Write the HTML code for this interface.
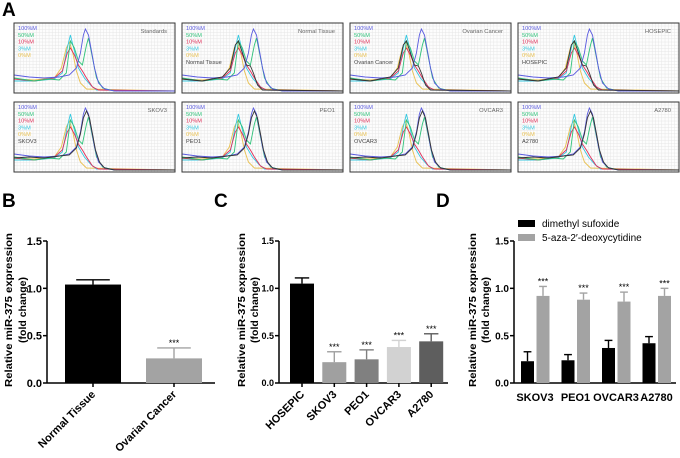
<!DOCTYPE html>
<html><head><meta charset="utf-8"><style>
html,body{margin:0;padding:0;background:#fff;}
body{width:680px;height:453px;overflow:hidden;font-family:"Liberation Sans",Arial,sans-serif;}
svg text{font-family:"Liberation Sans",Arial,sans-serif;}
</style></head><body>
<svg id="fig" width="680" height="453" viewBox="0 0 680 453" xmlns="http://www.w3.org/2000/svg">
<text x="2" y="16" font-size="19" font-weight="bold">A</text>
<text x="2" y="207" font-size="19" font-weight="bold">B</text>
<text x="214" y="207" font-size="19" font-weight="bold">C</text>
<text x="436" y="207" font-size="19" font-weight="bold">D</text>
<g id="melt"></g><g id="pb"></g><g id="pc"></g><g id="pd"></g>
</svg>
<script>
// ---- Panel A data (melting curves; x = temperature units 0..160, y = signal 0..66) ----
const meltTitles = ["Standards","Normal Tissue","Ovarian Cancer","HOSEPIC","SKOV3","PEO1","OVCAR3","A2780"];
const meltSampleShape = ["none","left","left","left","right","right","right","right"];
const stdLabels = ["100%M","50%M","10%M","3%M","0%M"];
const stdColors = ["#5a5ae0","#2fc27a","#e0305a","#36c8e0","#e8c050"];
const curve100X = [0,15,30,45,55,62,66,69,71,74,77,80,84,90,100,160];
const curve100Y = [16,14,13,14,16,23,38,56,62,56,40,23,8,2,0,0];
const curve50X = [0,20,35,45,52,56,60,64,68,72,74,78,82,88,100,160];
const curve50Y = [13,10,12,11,18,50,43,30,26,46,53,33,13,3,0,0];
const curve10X = [0,20,40,48,53,56,60,64,68,72,78,84,160];
const curve10Y = [12,10,13,20,38,43,36,26,20,13,4,1,0];
const curve3X = [0,20,40,48,53,56,60,64,70,76,82,160];
const curve3Y = [10,10,12,18,43,56,40,23,13,6,1,0];
const curve0X = [0,20,40,47,52,55,58,62,66,72,160];
const curve0Y = [12,11,13,23,43,49,40,20,8,2,0];
const sampleLeftX = [0,20,40,48,53,56,60,64,68,71,75,80,160];
const sampleLeftY = [12,10,14,23,46,50,38,26,25,18,6,1,0];
const sampleRightX = [0,15,30,45,55,62,66,69,72,75,78,81,85,90,100,160];
const sampleRightY = [12,13,12,14,15,22,36,52,59,52,36,20,8,2,0,0];

// ---- Panel B data ----
const bCats = ["Normal Tissue","Ovarian Cancer"];
const bVals = [1.04,0.26];
const bErr = [0.05,0.11];
const bSig = ["","***"];
const bColors = ["#000","#a3a3a3"];
// ---- Panel C data ----
const cCats = ["HOSEPIC","SKOV3","PEO1","OVCAR3","A2780"];
const cVals = [1.05,0.22,0.25,0.38,0.44];
const cErr = [0.06,0.11,0.10,0.07,0.08];
const cSig = ["","***","***","***","***"];
const cColors = ["#000","#a0a0a0","#808080","#d2d2d2","#5e5e5e"];
// ---- Panel D data ----
const dCats = ["SKOV3","PEO1","OVCAR3","A2780"];
const dDmso = [0.23,0.24,0.37,0.42];
const dDmsoErr = [0.10,0.06,0.08,0.07];
const dAza = [0.92,0.88,0.86,0.92];
const dAzaErr = [0.10,0.07,0.10,0.08];
const yTicks = [0,0.5,1.0,1.5];
const yTickLabels = ["0.0","0.5","1.0","1.5"];

const NS="http://www.w3.org/2000/svg";
function mk(parent,tag,attrs,text){const e=document.createElementNS(NS,tag);for(const k in attrs)e.setAttribute(k,attrs[k]);if(text!==undefined)e.textContent=text;parent.appendChild(e);return e;}

// ---------- Panel A ----------
const melt=document.getElementById('melt');
const pLeft=[14,182,350,518], pTop=[23,102], PW=161, PH=70;
meltTitles.forEach((title,i)=>{
  const px=pLeft[i%4], py=pTop[Math.floor(i/4)];
  const g=mk(melt,'g',{});
  
  
  mk(g,'rect',{x:px,y:py,width:PW,height:PH,fill:'#fdfdfd'});
  for(let gx=px+3;gx<px+PW;gx+=3.2) mk(g,'line',{x1:gx,y1:py,x2:gx,y2:py+PH,stroke:'#e6e6e6','stroke-width':0.5});
  for(let gy=py+3;gy<py+PH;gy+=3.2) mk(g,'line',{x1:px,y1:gy,x2:px+PW,y2:gy,stroke:'#e6e6e6','stroke-width':0.5});
  const sx=v=>px+v*(PW/160), sy=v=>py+68-v;
  function line(xs,ys,color,name){
    let d='';xs.forEach((x,k)=>{d+=(k?'L':'M')+sx(x).toFixed(1)+','+sy(ys[k]).toFixed(1);});
    const p=mk(g,'path',{d:d,fill:'none',stroke:color,'stroke-width':0.9});
    
    
  }
  line(curve0X,curve0Y,stdColors[4],'curve-0m');
  line(curve3X,curve3Y,stdColors[3],'curve-3m');
  line(curve10X,curve10Y,stdColors[2],'curve-10m');
  line(curve50X,curve50Y,stdColors[1],'curve-50m');
  line(curve100X,curve100Y,stdColors[0],'curve-100m');
  if(meltSampleShape[i]==='left') line(sampleLeftX,sampleLeftY,'#333','curve-sample');
  if(meltSampleShape[i]==='right') line(sampleRightX,sampleRightY,'#333','curve-sample');
  mk(g,'rect',{x:px,y:py,width:PW,height:PH,fill:'none',stroke:'#333','stroke-width':1});
  stdLabels.forEach((l,k)=>{
    const t=mk(g,'text',{x:px+4,y:py+7+k*6.8,'font-size':5.6,fill:stdColors[k]},l);
    
    
  });
  if(i>0){const t=mk(g,'text',{x:px+4,y:py+7+5*6.8,'font-size':5.6,fill:'#444'},title);
    
    }
  const tt=mk(g,'text',{x:px+PW-8,y:py+10,'font-size':5.8,fill:'#666','text-anchor':'end'},title);
  
  
});

// ---------- shared y axis ----------
const y0=383, yScale=v=>y0-v*(142/1.5);
function yAxis(g,ax,x2,t1x,t2x,tf){
  mk(g,'line',{x1:ax,y1:yScale(1.5),x2:ax,y2:y0,stroke:'#000','stroke-width':1.5});
  mk(g,'line',{x1:ax,y1:y0,x2:x2,y2:y0,stroke:'#000','stroke-width':1.5});
  yTicks.forEach((v,k)=>{
    mk(g,'line',{x1:ax-4,y1:yScale(v),x2:ax,y2:yScale(v),stroke:'#000','stroke-width':1.5});
    const t=mk(g,'text',{x:ax-5,y:yScale(v)+tf*0.36,'font-size':tf,'font-weight':'bold','text-anchor':'end'},yTickLabels[k]);
    
    
  });
  const cy=310;
  const a=mk(g,'text',{x:t1x,y:cy,'font-size':10.5,'font-weight':'bold','text-anchor':'middle',textLength:154,lengthAdjust:'spacingAndGlyphs',transform:`rotate(-90 ${t1x} ${cy})`},'Relative miR-375 expression');
  
  
  const b=mk(g,'text',{x:t2x,y:cy,'font-size':10.5,'font-weight':'bold','text-anchor':'middle',transform:`rotate(-90 ${t2x} ${cy})`},'(fold change)');
  
  
}
function bar(g,cx,w,v,err,color,sig,name){
  const top=yScale(v);
  const r=mk(g,'rect',{x:cx-w/2,y:top,width:w,height:y0-top,fill:color});
  
  
  const et=yScale(v+err);
  mk(g,'line',{x1:cx,y1:top,x2:cx,y2:et,stroke:color,'stroke-width':1.4});
  mk(g,'line',{x1:cx-w*0.3,y1:et,x2:cx+w*0.3,y2:et,stroke:color,'stroke-width':1.4});
  if(sig){const s=mk(g,'text',{x:cx,y:et-2,'font-size':9,'text-anchor':'middle'},sig);
    
    }
}
function rotLabel(g,cx,label){
  const t=mk(g,'text',{x:cx+3,y:y0+12,'font-size':11,'font-weight':'bold','text-anchor':'end',transform:`rotate(-45 ${cx+3} ${y0+12})`},label);
  
  
}

// ---------- Panel B ----------
const pb=document.getElementById('pb');
yAxis(pb,47,215,12,26,11);
const bX=i=>93+i*81;
bCats.forEach((c,i)=>{
  bar(pb,bX(i),56,bVals[i],bErr[i],bColors[i],bSig[i],'bar-'+c.toLowerCase().replace(/ /g,'-'));
  mk(pb,'line',{x1:bX(i),y1:y0,x2:bX(i),y2:y0+4,stroke:'#000','stroke-width':1.5});
  rotLabel(pb,bX(i),c);
});

// ---------- Panel C ----------
const pc=document.getElementById('pc');
yAxis(pc,279,448,245,258,9);
const cX=i=>302+i*32.3;
cCats.forEach((c,i)=>{
  bar(pc,cX(i),24,cVals[i],cErr[i],cColors[i],cSig[i],'bar-'+c.toLowerCase());
  mk(pc,'line',{x1:cX(i),y1:y0,x2:cX(i),y2:y0+4,stroke:'#000','stroke-width':1.5});
  rotLabel(pc,cX(i),c);
});

// ---------- Panel D ----------
const pd=document.getElementById('pd');
yAxis(pd,514,676,476,489,10);
const dX=i=>535+i*40.5;
dCats.forEach((c,i)=>{
  bar(pd,dX(i)-7.5,13,dDmso[i],dDmsoErr[i],'#000','','bar-dmso-'+c.toLowerCase());
  bar(pd,dX(i)+8,13,dAza[i],dAzaErr[i],'#a3a3a3','***','bar-aza-'+c.toLowerCase());
  const t=mk(pd,'text',{x:dX(i),y:401,'font-size':11,'font-weight':'bold','text-anchor':'middle'},c);
  
  
});
const lg=mk(pd,'g',{});


mk(lg,'rect',{x:518,y:220,width:17,height:7,fill:'#000'});
const l1=mk(lg,'text',{x:542,y:227,'font-size':10},'dimethyl sufoxide');


mk(lg,'rect',{x:518,y:234,width:17,height:7,fill:'#a3a3a3'});
const l2=mk(lg,'text',{x:542,y:241,'font-size':10},'5-aza-2\u2032-deoxycytidine');


</script>
</body></html>
